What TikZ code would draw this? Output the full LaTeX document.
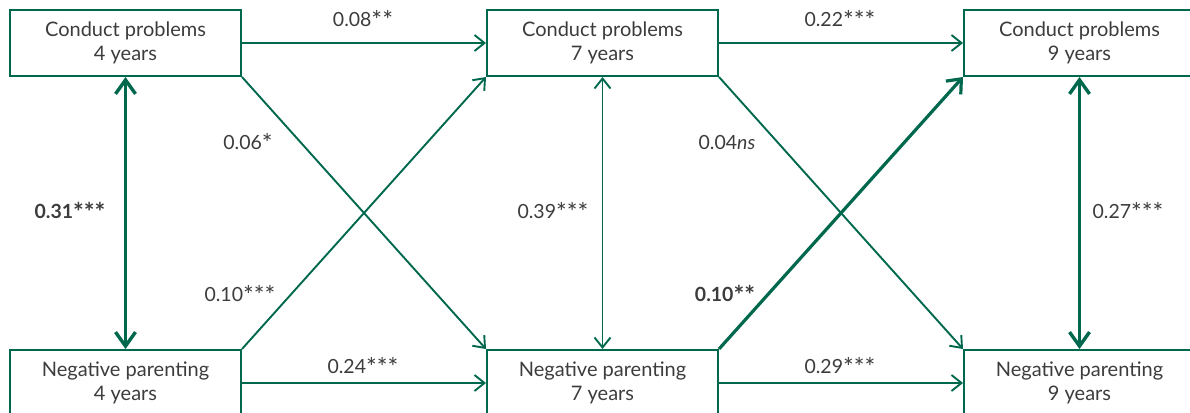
\documentclass[tikz,border=0pt]{standalone}
\usepackage{fontspec}
\usepackage{graphicx}
\setmainfont{Lato}
\usetikzlibrary{arrows.meta}
\definecolor{pgreen}{RGB}{0,104,76}
\definecolor{ptext}{RGB}{60,60,60}
\newcommand{\sigst}{\raisebox{-0.3ex}{\scalebox{1.3}{*}}}
\tikzset{
  boxnode/.style={draw=pgreen, line width=2pt, minimum width=231pt, minimum height=66pt,
    inner sep=0pt, align=center, text=ptext, font=\fontsize{20}{23.5}\selectfont},
  thinarrow/.style={draw=pgreen, line width=1.9pt, -{Straight Barb[length=10pt,width=16pt,line width=1.9pt]}},
  thickarrow/.style={draw=pgreen, line width=3.2pt, -{Straight Barb[length=12pt,width=20pt,line width=3.2pt]}},
  thinboth/.style={draw=pgreen, line width=1.9pt, {Straight Barb[length=10pt,width=16pt,line width=1.9pt]}-{Straight Barb[length=10pt,width=16pt,line width=1.9pt]}},
  thickboth/.style={draw=pgreen, line width=3.4pt, {Straight Barb[length=14pt,width=20pt,line width=3.4pt]}-{Straight Barb[length=14pt,width=20pt,line width=3.4pt]}},
  lab/.style={text=ptext, font=\fontsize{19.5}{22}\selectfont, inner sep=0pt},
}
\begin{document}
\begin{tikzpicture}[x=1pt,y=-1pt]
\useasboundingbox (0,0) rectangle (1190,412);
\clip (0,0) rectangle (1190,412);
\node[boxnode] (cp4) at (125.5,43) {Conduct problems\\4 years};
\node[boxnode] (cp7) at (602.5,43) {Conduct problems\\7 years};
\node[boxnode] (cp9) at (1079.5,43) {Conduct problems\\9 years};
\node[boxnode] (np4) at (125.5,383) {Negative parenting\\4 years};
\node[boxnode] (np7) at (602.5,383) {Negative parenting\\7 years};
\node[boxnode] (np9) at (1079.5,383) {Negative parenting\\9 years};

\draw[thinarrow] (cp4.east) -- (cp7.west);
\draw[thinarrow] (cp7.east) -- (cp9.west);
\draw[thinarrow] (np4.east) -- (np7.west);
\draw[thinarrow] (np7.east) -- (np9.west);
\draw[thinarrow] (cp4.south east) -- (np7.north west);
\draw[thinarrow] (np4.north east) -- (cp7.south west);
\draw[thinarrow] (cp7.south east) -- (np9.north west);
\draw[thickarrow] (np7.north east) -- (cp9.south west);
\draw[thickboth] (cp4.south) -- (np4.north);
\draw[thinboth] (cp7.south) -- (np7.north);
\draw[thickboth] (cp9.south) -- (np9.north);

\node[lab] (l1) at (363,20) {0.08\sigst\sigst};
\node[lab] (l2) at (840,20) {0.22\sigst\sigst\sigst};
\node[lab] (l3) at (248,143) {0.06\sigst};
\node[lab] (l4) at (727,143) {0.04\textit{ns}};
\node[lab] (l5) at (70,212) {\textbf{0.31\sigst\sigst\sigst}};
\node[lab] (l6) at (553,212) {0.39\sigst\sigst\sigst};
\node[lab] (l7) at (1128,212) {0.27\sigst\sigst\sigst};
\node[lab] (l8) at (240,295) {0.10\sigst\sigst\sigst};
\node[lab] (l9) at (725,295) {\textbf{0.10\sigst\sigst}};
\node[lab] (l10) at (363,367) {0.24\sigst\sigst\sigst};
\node[lab] (l11) at (840,367) {0.29\sigst\sigst\sigst};
\end{tikzpicture}
\end{document}
